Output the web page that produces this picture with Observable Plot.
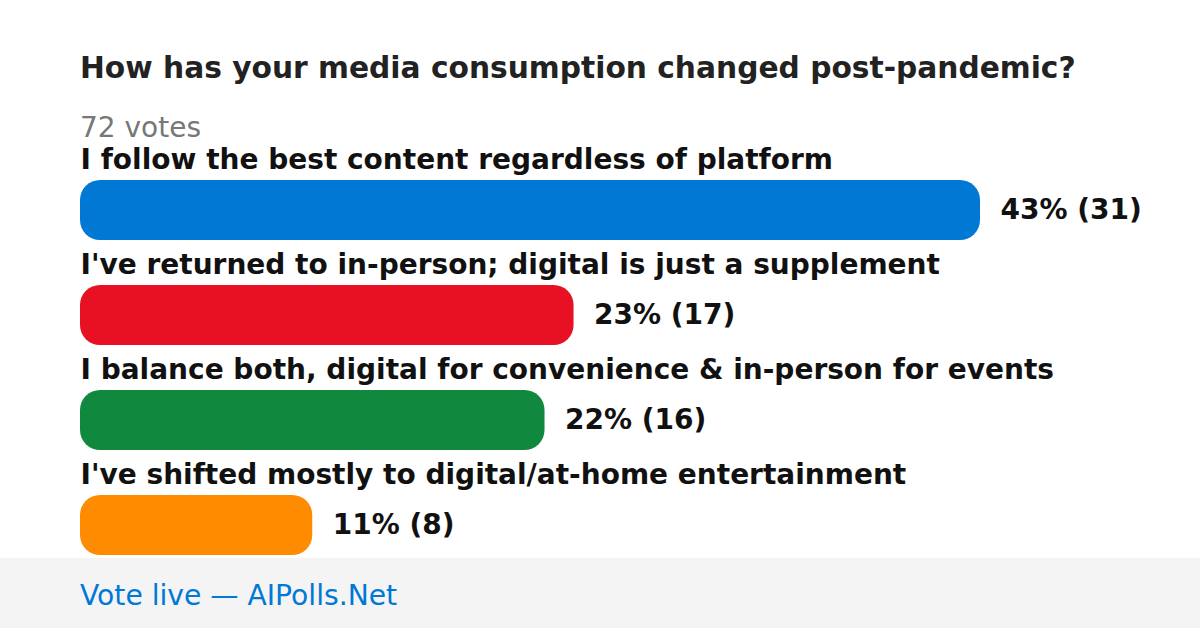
<!DOCTYPE html>
<html>
<head>
<meta charset="utf-8">
<script src="https://cdn.jsdelivr.net/npm/d3@7"></script>
<script src="https://cdn.jsdelivr.net/npm/@observablehq/plot@0.6"></script>
<style>
  html, body { margin: 0; padding: 0; background: #fff; }
  #wrap { position: relative; width: 1200px; height: 628px; overflow: hidden; background: #fff; font-family: "DejaVu Sans", sans-serif; }
  .abs { position: absolute; left: 80px; white-space: nowrap; }
  #title { top: 53px; font-size: 29.7px; line-height: 30px; font-weight: bold; color: #222; }
  #sub { top: 114px; font-size: 28px; line-height: 28px; color: #777; }
  #chart { position: absolute; left: 0; top: 140px; }
  #footer { position: absolute; left: 0; top: 558px; width: 1200px; height: 70px; background: #f4f4f4; }
  #footer span { position: absolute; left: 80px; top: 23.5px; font-size: 28.2px; line-height: 28px; color: #0078d4; }
</style>
</head>
<body>
<div id="wrap">
  <div id="title" class="abs"></div>
  <div id="sub" class="abs"></div>
  <div id="chart"></div>
  <div id="footer"><span></span></div>
</div>
<script>
const title = "How has your media consumption changed post-pandemic?";
const subtitle = "72 votes";
const footerText = "Vote live — AIPolls.Net";
const answers = [
  "I follow the best content regardless of platform",
  "I've returned to in-person; digital is just a supplement",
  "I balance both, digital for convenience & in-person for events",
  "I've shifted mostly to digital/at-home entertainment"
];
const votes = [31, 17, 16, 8];
const percents = [43, 23, 22, 11];
const colors = ["#0078d4", "#e81123", "#10893e", "#ff8c00"];

document.getElementById("title").textContent = title;
document.getElementById("sub").textContent = subtitle;
document.querySelector("#footer span").textContent = footerText;

const data = answers.map((a, i) => ({answer: a, votes: votes[i], pct: percents[i], color: colors[i]}));

const chart = Plot.plot({
  width: 1200,
  height: 420,
  marginLeft: 80,
  marginRight: 220,
  marginTop: 0,
  marginBottom: 0,
  style: {fontFamily: "DejaVu Sans, sans-serif", background: "transparent", overflow: "visible"},
  x: {domain: [0, d3.max(votes)], axis: null},
  y: {domain: answers, axis: null, padding: 0},
  marks: [
    Plot.barX(data, {x: "votes", y: "answer", fill: "color", insetTop: 40, insetBottom: 5, rx: 20, ry: 20}),
    Plot.text(data, {y: "answer", text: "answer", frameAnchor: "left", textAnchor: "start", lineAnchor: "bottom", dy: -24.5, fontSize: 28, fontWeight: "bold", fill: "#111"}),
    Plot.text(data, {x: "votes", y: "answer", text: d => `${d.pct}% (${d.votes})`, textAnchor: "start", lineAnchor: "middle", dx: 20, dy: 17.5, fontSize: 28, fontWeight: "bold", fill: "#111"})
  ]
});
document.getElementById("chart").appendChild(chart);
</script>
</body>
</html>
